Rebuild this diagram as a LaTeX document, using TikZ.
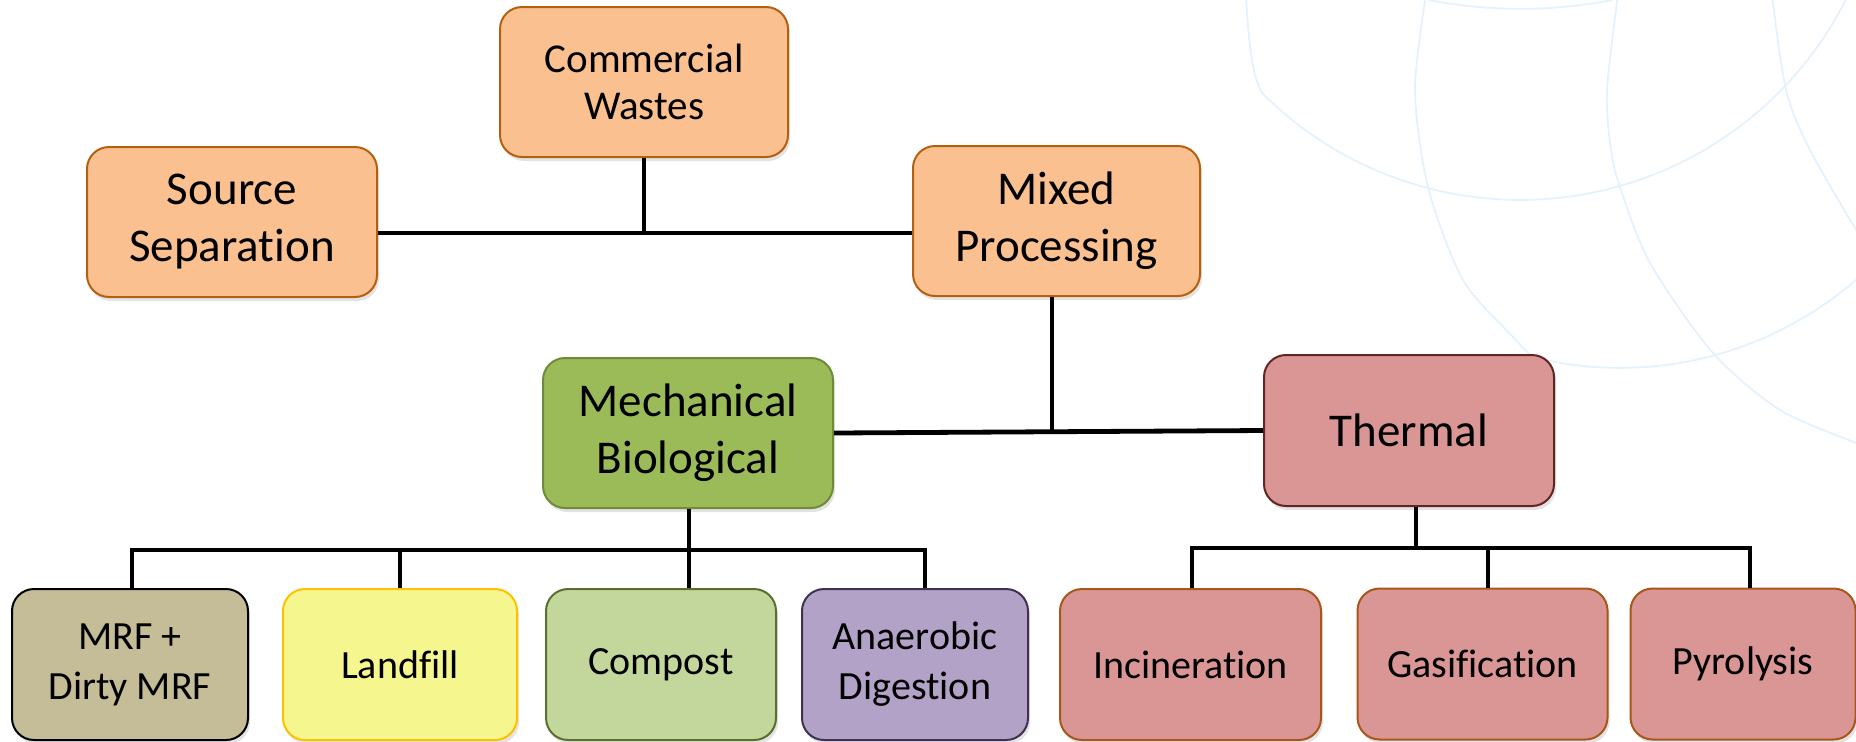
\documentclass[tikz,border=0pt]{standalone}
\usepackage{fontspec}
\setmainfont{Carlito}[Ligatures=NoCommon]
\usetikzlibrary{shadows}
\definecolor{orfill}{HTML}{FAC090}
\definecolor{ordraw}{HTML}{B5600F}
\definecolor{mbfill}{HTML}{9BBB59}
\definecolor{mbdraw}{HTML}{6E8A3A}
\definecolor{thfill}{HTML}{D99694}
\definecolor{thdraw}{HTML}{632523}
\definecolor{thsub}{HTML}{A8561A}
\definecolor{mrffill}{HTML}{C4BD97}
\definecolor{lffill}{HTML}{F6F68F}
\definecolor{lfdraw}{HTML}{FFC000}
\definecolor{cpfill}{HTML}{C3D69B}
\definecolor{cpdraw}{HTML}{5A6E2E}
\definecolor{adfill}{HTML}{B3A2C7}
\definecolor{addraw}{HTML}{3F3151}
\definecolor{bgline}{HTML}{E4F2FC}
\begin{document}
\begin{tikzpicture}[x=0.5pt,y=-0.5pt,
  box/.style={draw, line width=1pt, rounded corners=11pt, align=center,
    inner sep=0pt, text=black,
    drop shadow={shadow xshift=1pt, shadow yshift=-2pt, opacity=0.22}},
  bigtext/.style={font=\fontsize{23.5pt}{28.5pt}\selectfont},
  midtext/.style={font=\fontsize{20.5pt}{23.5pt}\selectfont},
  smalltext/.style={font=\fontsize{20pt}{25pt}\selectfont},
  orbox/.style={box, fill=orfill, draw=ordraw, minimum height=75pt},
  lowbox/.style={box, smalltext, minimum height=75.5pt},
  conn/.style={line width=2.4pt, line join=miter, black},
  bg/.style={draw=bgline, line width=0.9pt}]
\useasboundingbox (0,0) rectangle (1856,741);

% faint background globe lines
\draw[bg] (1246,-2) .. controls (1249,45) and (1252,75) .. (1262,93)
  arc[start angle=135, end angle=25, radius=365];
\draw[bg] (1429,0) arc[start angle=101, end angle=79, radius=480.5];
\draw[bg] (1545,360) arc[start angle=102, end angle=40, radius=360.5];
\draw[bg] plot[smooth] coordinates {(1426,-5) (1415,90) (1428,187) (1463,280) (1513,337) (1540,365)};
\draw[bg] plot[smooth] coordinates {(1618,-5) (1607,90) (1611,150) (1621,190) (1650,263) (1713,353) (1780,410) (1856,443) (1870,450)};
\draw[bg] plot[smooth] coordinates {(1772,-5) (1786,90) (1810,150) (1856,230) (1866,246)};

% nodes
\node[orbox, midtext, minimum width=144pt] (comm) at (644,82) {Commercial\\Wastes};
\node[orbox, bigtext, minimum width=145pt] (source) at (232,222) {Source\\Separation};
\node[orbox, bigtext, minimum width=143.5pt] (mixed) at (1056.5,221) {Mixed\\Processing};
\node[box, bigtext, fill=mbfill, draw=mbdraw, minimum width=145pt, minimum height=75pt] (mech) at (688,433) {Mechanical\\Biological};
\node[box, bigtext, fill=thfill, draw=thdraw, minimum width=145pt, minimum height=75.5pt] (thermal) at (1409,430.5) {Thermal};

\node[lowbox, fill=mrffill, draw=black, minimum width=118pt] (mrf) at (130,664.5) {MRF +\\Dirty MRF};
\node[lowbox, fill=lffill, draw=lfdraw, minimum width=117pt] (landfill) at (400,664.5) {Landfill};
\node[lowbox, fill=cpfill, draw=cpdraw, minimum width=115pt] (compost) at (661,664.5) {Compost};
\node[lowbox, fill=adfill, draw=addraw, minimum width=113pt] (anaer) at (915,664.5) {Anaerobic\\Digestion};
\node[lowbox, fill=thfill, draw=thsub, minimum width=130.5pt] (incin) at (1190.5,664.5) {Incineration};
\node[lowbox, fill=thfill, draw=thsub, minimum width=125pt] (gasif) at (1482.5,664) {Gasification};
\node[lowbox, fill=thfill, draw=thsub, minimum width=112.5pt] (pyro) at (1743,664) {Pyrolysis};

% connectors
\coordinate (jA) at (644,233);
\draw[conn] (source.east |- jA) -- (mixed.west |- jA);
\draw[conn] (comm.south) -- (jA);

\coordinate (jB) at (1052,432);
\draw[conn] (mech.east) -- (thermal.west);
\draw[conn] (mixed.south -| jB) -- (jB);

\coordinate (bA) at (689,550);
\coordinate (bAl) at (132,550);
\coordinate (bAr) at (925,550);
\draw[conn] (mech.south -| bA) -- (bA);
\draw[conn] (mrf.north -| bAl) -- (bAl) -- (bAr) -- (anaer.north -| bAr);
\draw[conn] (landfill.north) -- (landfill.north |- bA);
\draw[conn] (bA) -- (compost.north -| bA);

\coordinate (bB) at (1416,548);
\coordinate (bBl) at (1192,548);
\coordinate (bBm) at (1488,548);
\coordinate (bBr) at (1750,548);
\draw[conn] (thermal.south -| bB) -- (bB);
\draw[conn] (incin.north -| bBl) -- (bBl) -- (bBr) -- (pyro.north -| bBr);
\draw[conn] (bBm) -- (gasif.north -| bBm);
\end{tikzpicture}
\end{document}
